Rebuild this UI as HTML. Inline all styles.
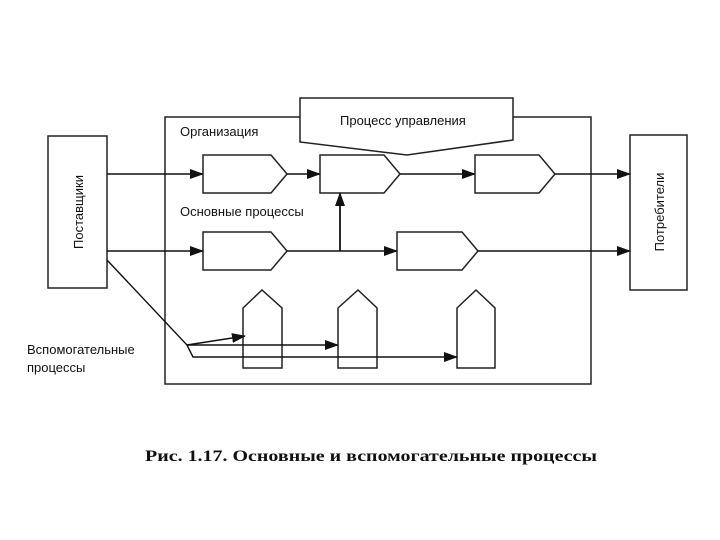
<!DOCTYPE html>
<html><head><meta charset="utf-8"><style>
html,body{margin:0;padding:0;background:#fff;width:720px;height:540px;overflow:hidden}
svg text{font-family:"Liberation Sans","DejaVu Sans",sans-serif;fill:#111}
</style></head><body>
<svg width="720" height="540" viewBox="0 0 720 540" xmlns="http://www.w3.org/2000/svg">
<defs><marker id="a" markerWidth="14" markerHeight="10" refX="13" refY="5" orient="auto" markerUnits="userSpaceOnUse"><path d="M0,0 L14,5 L0,10 Z" fill="#111"/></marker></defs>
<g stroke="#222" stroke-width="1.5" fill="#fff">
<rect x="165" y="117" width="426" height="267"/>
<polygon points="300,98 513,98 513,140 407,155 300,142"/>
<rect x="48" y="136" width="59" height="152"/>
<rect x="630" y="135" width="57" height="155"/>
<polygon points="203,155 271,155 287,174 271,193 203,193"/>
<polygon points="320,155 384,155 400,174 384,193 320,193"/>
<polygon points="475,155 539,155 555,174 539,193 475,193"/>
<polygon points="203,232 271,232 287,251 271,270 203,270"/>
<polygon points="397,232 462,232 478,251 462,270 397,270"/>
<polygon points="243,308 262,290 282,308 282,368 243,368"/>
<polygon points="338,308 358,290 377,308 377,368 338,368"/>
<polygon points="457,308 476,290 495,308 495,368 457,368"/>
</g>
<g stroke="#111" stroke-width="1.4" fill="none">
<line x1="107" y1="174" x2="203" y2="174" marker-end="url(#a)"/>
<line x1="287" y1="174" x2="320" y2="174" marker-end="url(#a)"/>
<line x1="400" y1="174" x2="475" y2="174" marker-end="url(#a)"/>
<line x1="555" y1="174" x2="630" y2="174" marker-end="url(#a)"/>
<line x1="107" y1="251" x2="203" y2="251" marker-end="url(#a)"/>
<line x1="287" y1="251" x2="397" y2="251" marker-end="url(#a)"/>
<line x1="478" y1="251" x2="630" y2="251" marker-end="url(#a)"/>
<line x1="340" y1="251" x2="340" y2="193" marker-end="url(#a)" stroke-width="1.8"/>
<polyline points="107,260 187,345 193,357 457,357" marker-end="url(#a)"/>
<line x1="187" y1="345" x2="338" y2="345" marker-end="url(#a)"/>
<line x1="187" y1="345" x2="245" y2="336" marker-end="url(#a)"/>
</g>
<text x="340" y="125" font-size="13">Процесс управления</text>
<text x="180" y="136" font-size="13">Организация</text>
<text x="180" y="216" font-size="13">Основные процессы</text>
<text x="27" y="354" font-size="13">Вспомогательные</text>
<text x="27" y="372" font-size="13">процессы</text>
<text transform="translate(83,212) rotate(-90)" font-size="13" text-anchor="middle">Поставщики</text>
<text transform="translate(664,212) rotate(-90)" font-size="13" text-anchor="middle">Потребители</text>
<text x="145" y="461" font-size="16" font-weight="bold" textLength="452" lengthAdjust="spacingAndGlyphs" style="font-family:'Liberation Serif',serif">Рис. 1.17. Основные и вспомогательные процессы</text>
</svg>
</body></html>
